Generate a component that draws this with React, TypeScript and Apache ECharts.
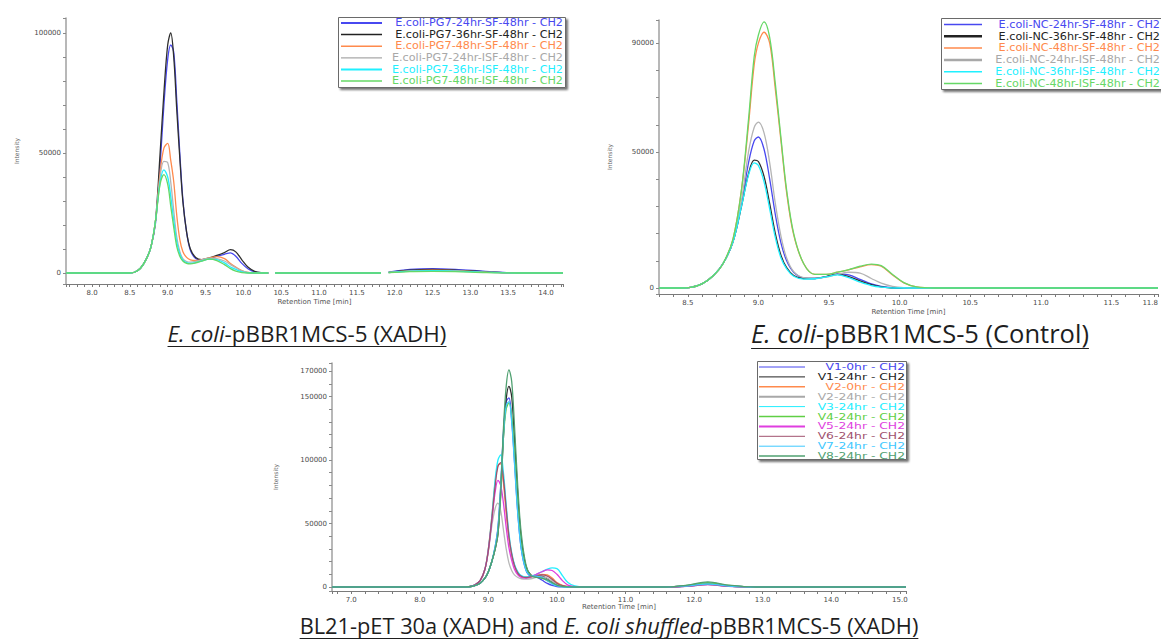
import React, { useEffect, useRef } from "react";
import * as echarts from "echarts";

// ---------------- Panel 1: E. coli-pBBR1MCS-5 (XADH) ----------------
const xs1 = [7.656, 8.5, 8.56, 8.64, 8.72, 8.78, 8.84, 8.9, 8.95, 9.0, 9.04, 9.08, 9.12, 9.16, 9.2, 9.25, 9.3, 9.37, 9.45, 9.55, 9.65, 9.75, 9.83, 9.9, 9.98, 10.06, 10.15, 10.25, 10.33, 10.37, 10.42, 11.82, 11.86, 11.92, 12.2, 12.5, 12.8, 13.2, 13.6, 14.225];
const p1Blue = [0, 0, 300, 2000, 6000, 11000, 21000, 45000, 70000, 89000, 95000, 92000, 72000, 50000, 31000, 17000, 9500, 6000, 5300, 6000, 6900, 7800, 8400, 7000, 4000, 1800, 500, 100, 0, null, 0, 0, null, 400, 1500, 1800, 1500, 700, 0, 0];
const p1Black = [0, 0, 300, 2000, 6000, 11000, 22000, 50000, 75000, 95000, 100000, 90000, 68000, 48000, 30000, 17000, 10000, 6500, 5600, 6300, 7300, 8500, 9700, 8800, 5500, 2500, 700, 100, 0, null, 0, 0, null, 300, 1200, 1500, 1200, 500, 0, 0];
const p1Orange = [0, 0, 300, 2000, 6000, 11000, 22000, 42000, 52000, 54000, 47000, 38000, 24000, 14000, 9000, 6500, 5500, 5200, 5500, 6300, 6800, 6000, 4000, 2500, 1000, 300, 0, 0, 0, null, 0, 0, null, 200, 900, 1200, 1000, 400, 0, 0];
const p1Gray = [0, 0, 300, 2000, 6000, 11000, 22000, 40000, 46500, 46000, 38000, 26000, 15000, 9000, 6000, 4800, 4500, 4800, 5500, 6200, 6000, 5000, 3500, 2200, 900, 300, 0, 0, 0, null, 0, 0, null, 200, 800, 1000, 800, 300, 0, 0];
const p1Cyan = [0, 0, 300, 2000, 6000, 11000, 22000, 38000, 43000, 40000, 32000, 22000, 13000, 8000, 5500, 4300, 4000, 4300, 5000, 5800, 5600, 4200, 2500, 1500, 500, 100, 0, 0, 0, null, 0, 0, null, 200, 800, 1000, 800, 300, 0, 0];
const p1Green = [0, 0, 300, 2000, 6000, 11000, 22000, 37000, 41000, 37000, 28000, 19000, 11000, 7000, 5000, 4000, 3800, 4200, 5000, 5800, 5200, 3500, 1800, 800, 200, 0, 0, 0, 0, null, 0, 0, null, 150, 600, 700, 600, 200, 0, 0];
const p1Names = [
  "E.coli-PG7-24hr-SF-48hr - CH2",
  "E.coli-PG7-36hr-SF-48hr - CH2",
  "E.coli-PG7-48hr-SF-48hr - CH2",
  "E.coli-PG7-24hr-ISF-48hr - CH2",
  "E.coli-PG7-36hr-ISF-48hr - CH2",
  "E.coli-PG7-48hr-ISF-48hr - CH2",
];
const xLabels1 = [8.0, 8.5, 9.0, 9.5, 10.0, 10.5, 11.0, 11.5, 12.0, 12.5, 13.0, 13.5, 14.0];
const yLabels1 = [0, 50000, 100000];

// ---------------- Panel 2: E. coli-pBBR1MCS-5 (Control) ----------------
const xs2 = [8.296, 8.45, 8.52, 8.6, 8.68, 8.75, 8.82, 8.88, 8.93, 8.97, 9.0, 9.04, 9.08, 9.12, 9.16, 9.2, 9.25, 9.32, 9.4, 9.48, 9.56, 9.64, 9.72, 9.8, 9.87, 9.95, 10.03, 10.12, 10.25, 11.83];
const p2Blue = [0, 0, 200, 1500, 4500, 9000, 17000, 31000, 46000, 54000, 55500, 51000, 40000, 27000, 16500, 10000, 5800, 3700, 3500, 4200, 5200, 4800, 3200, 1500, 600, 100, 0, 0, 0, 0];
const p2Black = [0, 0, 200, 1500, 4500, 9000, 17000, 30000, 42000, 47000, 46500, 41000, 31000, 20000, 12000, 7500, 4600, 3500, 3500, 4200, 5000, 4200, 2600, 1200, 400, 0, 0, 0, 0, 0];
const p2Orange = [0, 0, 200, 1500, 4500, 9000, 18000, 36000, 60000, 82000, 90000, 94000, 90000, 73000, 54000, 35000, 19500, 9000, 5000, 5000, 5800, 6700, 7800, 8600, 8000, 4800, 1900, 400, 0, 0];
const p2Gray = [0, 0, 200, 1500, 4500, 9000, 17000, 32000, 50000, 59000, 61000, 57000, 46000, 31000, 19000, 11000, 6000, 3800, 3500, 4000, 5000, 5800, 5500, 3500, 1800, 600, 100, 0, 0, 0];
const p2Cyan = [0, 0, 200, 1500, 4500, 9000, 17000, 30000, 41500, 46000, 45000, 39000, 29000, 18500, 11000, 7000, 4300, 3300, 3400, 4100, 4800, 3800, 2200, 900, 300, 0, 0, 0, 0, 0];
const p2Green = [0, 0, 200, 1500, 4500, 9000, 18000, 36000, 62000, 85000, 93000, 97800, 92000, 75000, 55000, 36000, 20000, 9000, 5000, 5000, 5800, 6800, 8000, 8800, 8200, 5000, 2000, 400, 0, 0];
const p2Names = [
  "E.coli-NC-24hr-SF-48hr - CH2",
  "E.coli-NC-36hr-SF-48hr - CH2",
  "E.coli-NC-48hr-SF-48hr - CH2",
  "E.coli-NC-24hr-ISF-48hr - CH2",
  "E.coli-NC-36hr-ISF-48hr - CH2",
  "E.coli-NC-48hr-ISF-48hr - CH2",
];
const xLabels2 = [8.5, 9.0, 9.5, 10.0, 10.5, 11.0, 11.5];
const yLabels2 = [0, 50000, 90000];

// ---------------- Panel 3: BL21-pET 30a / E. coli shuffled ----------------
const xs3 = [6.72, 8.6, 8.72, 8.8, 8.88, 8.95, 9.0, 9.05, 9.1, 9.14, 9.18, 9.22, 9.26, 9.3, 9.34, 9.38, 9.43, 9.48, 9.55, 9.62, 9.7, 9.78, 9.86, 9.93, 10.0, 10.08, 10.16, 10.26, 10.4, 11.6, 11.9, 12.2, 12.5, 12.9, 13.3, 15.09];
const v1_0 = [0, 0, 200, 1000, 3000, 7000, 12000, 20000, 32000, 47000, 80000, 122000, 146000, 149000, 132000, 100000, 58000, 30000, 13000, 8500, 8000, 5500, 2800, 1200, 400, 100, 0, 0, 0, 0, 700, 2000, 700, 0, 0, 0];
const v1_24 = [0, 0, 200, 1000, 3000, 7000, 12000, 20000, 30000, 42000, 72000, 118000, 148000, 158000, 150000, 118000, 72000, 38000, 16000, 9500, 8500, 8500, 6500, 4000, 2000, 700, 150, 0, 0, 0, 900, 2500, 900, 0, 0, 0];
const v2_0 = [0, 0, 300, 1500, 5000, 14000, 30000, 55000, 83000, 96000, 97000, 82000, 58000, 38000, 25000, 17000, 11000, 8500, 7500, 8000, 9000, 10000, 9500, 7000, 3500, 1200, 300, 0, 0, 0, 800, 2200, 800, 0, 0, 0];
const v2_24 = [0, 0, 300, 1500, 5000, 14000, 28000, 48000, 62000, 66000, 60000, 45000, 30000, 19000, 13000, 9500, 7500, 6500, 6200, 6500, 7500, 8000, 7000, 4500, 2000, 600, 100, 0, 0, 0, 600, 1800, 600, 0, 0, 0];
const v3_24 = [0, 0, 300, 1500, 5000, 14000, 30000, 55000, 85000, 100000, 104000, 90000, 65000, 42000, 27000, 18000, 12000, 9000, 8000, 8500, 10000, 12000, 14000, 15000, 14500, 9000, 3500, 800, 0, 0, 900, 2500, 900, 0, 0, 0];
const v4_24 = [0, 0, 200, 1000, 3000, 7000, 12000, 20000, 31000, 44000, 76000, 118000, 140000, 145000, 135000, 105000, 62000, 33000, 14000, 9000, 8000, 7000, 5000, 2800, 1200, 400, 100, 0, 0, 0, 1200, 3500, 1200, 0, 0, 0];
const v5_24 = [0, 0, 300, 1500, 5000, 14000, 29000, 52000, 75000, 84000, 80000, 66000, 47000, 31000, 21000, 14000, 9500, 7500, 7000, 8000, 10000, 12000, 13500, 13000, 10000, 5000, 1500, 300, 0, 0, 600, 1800, 600, 0, 0, 0];
const v6_24 = [0, 0, 300, 1500, 5000, 14000, 29000, 53000, 80000, 95000, 98000, 85000, 62000, 40000, 26000, 17000, 11000, 8500, 7500, 8000, 9000, 9500, 8500, 6000, 3000, 1000, 200, 0, 0, 0, 700, 2000, 700, 0, 0, 0];
const v7_24 = [0, 0, 200, 1000, 3000, 7000, 12000, 20000, 32000, 46000, 78000, 120000, 143000, 146000, 130000, 98000, 57000, 30000, 13000, 9000, 8500, 7500, 5000, 2500, 900, 200, 0, 0, 0, 0, 800, 2200, 800, 0, 0, 0];
const v8_24 = [0, 0, 200, 1000, 3000, 7000, 12000, 20000, 30000, 42000, 75000, 125000, 158000, 171000, 162000, 128000, 78000, 42000, 17000, 9000, 7500, 7000, 5500, 3500, 1500, 500, 100, 0, 0, 0, 1500, 4000, 1500, 0, 0, 0];
const p3Names = [
  "V1-0hr - CH2",
  "V1-24hr - CH2",
  "V2-0hr - CH2",
  "V2-24hr - CH2",
  "V3-24hr - CH2",
  "V4-24hr - CH2",
  "V5-24hr - CH2",
  "V6-24hr - CH2",
  "V7-24hr - CH2",
  "V8-24hr - CH2",
];
const xLabels3 = [7, 8, 9, 10, 11, 12, 13, 14, 15];
const yLabels3 = [0, 50000, 100000, 150000, 170000];

// ---------------- styles ----------------
const c6 = ["#4848f0", "#2e2e2e", "#ff8a4c", "#b4b4b4", "#1ff0ff", "#66d866"];
const lw6 = [1.3, 1.3, 1.3, 1.3, 1.3, 1.3];
const c10 = ["#4646ee", "#2e2e2e", "#ff8a4c", "#b8b8b8", "#22eeff", "#5fcf45", "#e03ee0", "#a0506e", "#3ec8ff", "#4fa070"];

const FONT_AX = "'DejaVu Sans', Verdana, sans-serif";
const FONT_CAP = "'Open Sans', 'Liberation Sans', sans-serif";

function measure(text: string, font: string): number {
  const c = document.createElement("canvas");
  const ctx = c.getContext("2d");
  if (!ctx) return text.length * 8;
  ctx.font = font;
  return ctx.measureText(text).width;
}

function caption(parts: [string, boolean][], cx: number, cy: number, targetW: number) {
  const base = 20;
  const w0 = parts.reduce((s, [t, it]) => s + measure(t, `${it ? "italic " : ""}${base}px ${FONT_CAP}`), 0);
  const size = Math.round((base * targetW) / w0 * 10) / 10;
  const fonts = parts.map(([, it]) => `${it ? "italic " : ""}${size}px ${FONT_CAP}`);
  const widths = parts.map(([t], i) => measure(t, fonts[i]));
  const total = widths.reduce((a, b) => a + b, 0);
  let x = cx - total / 2;
  const els: any[] = [];
  parts.forEach(([t], i) => {
    els.push({
      type: "text", x, y: cy, z: 100,
      style: { text: t, font: fonts[i], fill: "#1e1e1e", textAlign: "left", textVerticalAlign: "middle" },
    });
    x += widths[i];
  });
  const uy = Math.round(cy + size * 0.6) + 0.5;
  els.push({
    type: "line", z: 100,
    shape: { x1: cx - total / 2, y1: uy, x2: cx + total / 2, y2: uy },
    style: { stroke: "#1e1e1e", lineWidth: 1 },
  });
  return els;
}

function legendBox(
  box: { x: number; y: number; w: number; h: number },
  names: string[], colors: string[], widths: number[],
  o: { y0: number; dy: number; lx0: number; lx1: number; tx: number; fs: number; sx: number }
) {
  const els: any[] = [
    {
      type: "rect", z: 100,
      shape: { x: box.x, y: box.y, width: box.w, height: box.h },
      style: { fill: "#fff", stroke: "#6a6a6a", lineWidth: 1, shadowBlur: 2, shadowOffsetX: 2, shadowOffsetY: 2, shadowColor: "rgba(0,0,0,0.55)" },
    },
  ];
  names.forEach((n, i) => {
    const y = o.y0 + i * o.dy;
    els.push({ type: "line", z: 101, shape: { x1: o.lx0, y1: y, x2: o.lx1, y2: y }, style: { stroke: colors[i], lineWidth: widths[i] } });
    els.push({
      type: "text", z: 101, x: o.tx, y, scaleX: o.sx,
      style: { text: n, fill: colors[i], font: `${o.fs}px ${FONT_AX}`, textAlign: "right", textVerticalAlign: "middle" },
    });
  });
  return els;
}

const near = (list: number[], v: number, eps: number) => list.some((l) => Math.abs(l - v) < eps);

export default function App() {
  const ref = useRef<HTMLDivElement>(null);
  useEffect(() => {
    if (!ref.current) return;
    const chart = echarts.init(ref.current, undefined, { renderer: "svg" });

    const panels = [
      { left: 66, top: 18, width: 497, height: 266, xMin: 7.656, xMax: 14.225, yMin: -4583, yMax: 106250, xStep: 0.1, yStep: 10000,
        xLab: xLabels1, yLab: yLabels1, yGap: 47, xGap: 14, maxLabel: false },
      { left: 659, top: 20, width: 502, height: 274, xMin: 8.296, xMax: 11.83, yMin: -2200, yMax: 98500, xStep: 0.1, yStep: 10000,
        xLab: xLabels2, yLab: yLabels2, yGap: 47, xGap: 14, maxLabel: true },
      { left: 332, top: 363, width: 574, height: 228, xMin: 6.72, xMax: 15.09, yMin: -3150, yMax: 176400, xStep: 0.2, yStep: 10000,
        xLab: xLabels3, yLab: yLabels3, yGap: 54, xGap: 12, maxLabel: false },
    ];

    const axisLabelStyle = { fontSize: 7, color: "#4a4a4a", fontFamily: FONT_AX };

    const mk = (name: string, xs: number[], ys: (number | null)[], color: string, width: number, idx: number) => ({
      type: "line", name, xAxisIndex: idx, yAxisIndex: idx,
      data: xs.map((x, i) => [x, ys[i] === null ? "-" : ys[i]]),
      showSymbol: false, symbol: "none", smooth: 0.35, connectNulls: false, silent: true,
      lineStyle: { color, width }, itemStyle: { color },
    });

    const s1 = [p1Blue, p1Black, p1Orange, p1Gray, p1Cyan, p1Green].map((ys, i) => mk(p1Names[i], xs1, ys, c6[i], lw6[i], 0));
    const s2 = [p2Blue, p2Black, p2Orange, p2Gray, p2Cyan, p2Green].map((ys, i) => mk(p2Names[i], xs2, ys, c6[i], lw6[i], 1));
    const s3 = [v1_0, v1_24, v2_0, v2_24, v3_24, v4_24, v5_24, v6_24, v7_24, v8_24].map((ys, i) => mk(p3Names[i], xs3, ys, c10[i], 1.3, 2));

    const graphics = [
      ...legendBox({ x: 338.5, y: 17.5, w: 227, h: 70 }, p1Names, c6.map((c, i) => (i === 1 ? "#222" : i === 3 ? "#a8a8a8" : c)), [2, 1.5, 1.5, 1.2, 2, 1.5],
        { y0: 23, dy: 11.6, lx0: 341, lx1: 382, tx: 563, fs: 10, sx: 1.12 }),
      ...legendBox({ x: 941.5, y: 18.5, w: 222, h: 71 }, p2Names, c6.map((c, i) => (i === 1 ? "#222" : i === 3 ? "#a8a8a8" : c)), [1.5, 2.5, 1.5, 2.5, 1.5, 1.5],
        { y0: 24.5, dy: 11.8, lx0: 944, lx1: 982, tx: 1160, fs: 10, sx: 1.12 }),
      ...legendBox({ x: 757.5, y: 361.5, w: 149, h: 98 }, p3Names, c10.map((c, i) => (i === 1 ? "#222" : i === 3 ? "#a8a8a8" : c)), [1, 1, 1.5, 2, 1, 1.5, 2, 1, 1, 1.5],
        { y0: 367, dy: 9.9, lx0: 759, lx1: 805, tx: 905, fs: 9.5, sx: 1.3 }),
      ...caption([["E. coli", true], ["-pBBR1MCS-5 (XADH)", false]], 307, 333, 279),
      ...caption([["E. coli", true], ["-pBBR1MCS-5 (Control)", false]], 920, 333, 338),
      ...caption([["BL21-pET 30a (XADH) and ", false], ["E. coli shuffled", true], ["-pBBR1MCS-5 (XADH)", false]], 609, 625, 620),
    ];

    const option: any = {
      animation: false,
      backgroundColor: "#ffffff",
      grid: panels.map((p) => ({ left: p.left, top: p.top, width: p.width, height: p.height, containLabel: false })),
      xAxis: panels.map((p, i) => ({
        type: "value", gridIndex: i, min: p.xMin, max: p.xMax,
        minInterval: p.xStep, maxInterval: p.xStep, splitNumber: 60,
        axisLine: { show: true, onZero: false, lineStyle: { color: "#7a7a7a", width: 1.2 } },
        axisTick: { show: true, length: 3, lineStyle: { color: "#7a7a7a" } },
        splitLine: { show: false },
        axisLabel: {
          ...axisLabelStyle, margin: 5, showMinLabel: true, showMaxLabel: true,
          alignMaxLabel: p.maxLabel ? "right" : undefined,
          formatter: (v: number) => (near(p.xLab, v, 1e-6) ? v.toFixed(1) : p.maxLabel && Math.abs(v - p.xMax) < 1e-6 ? v.toFixed(1) : ""),
        },
        name: "Retention Time [min]", nameLocation: "middle", nameGap: p.xGap,
        nameTextStyle: { fontSize: 7, color: "#555", fontFamily: FONT_AX },
      })),
      yAxis: panels.map((p, i) => ({
        type: "value", gridIndex: i, min: p.yMin, max: p.yMax,
        minInterval: p.yStep, maxInterval: p.yStep, splitNumber: 12,
        axisLine: { show: true, onZero: false, lineStyle: { color: "#a0a0a0", width: 1.5 } },
        axisTick: { show: true, length: 3, lineStyle: { color: "#8a8a8a" } },
        splitLine: { show: false },
        axisLabel: {
          ...axisLabelStyle, margin: 5,
          formatter: (v: number) => (near(p.yLab, v, 1) ? String(Math.round(v)) : ""),
        },
        name: "Intensity", nameLocation: "middle", nameGap: p.yGap, nameRotate: 90,
        nameTextStyle: { fontSize: 6, color: "#666", fontFamily: FONT_AX },
      })),
      series: [...s1, ...s2, ...s3],
      graphic: { elements: graphics },
    };

    chart.setOption(option);
    return () => chart.dispose();
  }, []);

  return (
    <div
      ref={ref}
      style={{ position: "absolute", left: 0, top: 0, width: 1161, height: 641, background: "#fff" }}
    />
  );
}
